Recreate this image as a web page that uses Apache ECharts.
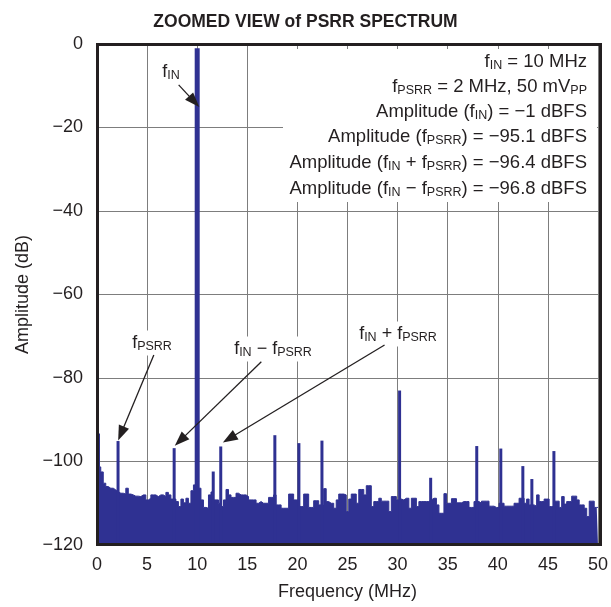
<!DOCTYPE html>
<html><head><meta charset="utf-8">
<script src="https://cdn.jsdelivr.net/npm/echarts@6/dist/echarts.min.js"></script>
<style>html,body{margin:0;padding:0;background:#fff}#c{width:611px;height:607px}</style>
</head><body><div id="c"></div>
<script>
// Noise floor, one value per 0.25 MHz bin (dB)
const floor0to10 = [-93, -101.3, -102.5, -105.2, -106.0, -106.4, -106.4, -106.8, -107.2, -107.6,
 -107.6, -107.8, -106.4, -107.8, -108.0, -108.3, -108.3, -108.4, -108.0, -108.0,
 -109.2, -108.8, -108.0, -108.0, -108.4, -108.0, -108.0, -108.4, -107.4, -108.0,
 -109.0, -109.0, -109.6, -110.8, -109.0, -109.9, -108.8, -110.0, -107.0, -105.6];
const floor10to20 = [-104, -106.4, -109.2, -111.0, -111.2, -108.0, -107.3, -109.2, -109.2, -110.0,
 -110.8, -109.2, -106.7, -108.0, -108.6, -108.6, -107.6, -108.0, -108.0, -108.0,
 -108.4, -109.2, -109.2, -109.2, -110.0, -109.6, -110.0, -110.0, -110.0, -108.6,
 -108.6, -108.0, -110.4, -110.4, -111.2, -111.2, -111.2, -107.8, -107.8, -109.2];
const floor20to30 = [-109.2, -110.8, -110.8, -107.8, -107.8, -111.0, -111.0, -109.4, -109.4, -110.4,
 -110.4, -106.5, -109.6, -110.0, -110.0, -111.2, -109.2, -107.8, -107.8, -108.0,
 -112.0, -109.0, -107.8, -107.8, -110.0, -106.7, -106.7, -108.0, -105.8, -105.8,
 -110.8, -109.6, -109.6, -108.8, -109.5, -109.5, -109.5, -112.0, -108.4, -108.4];
const floor30to40 = [-109.2, -109.0, -109.2, -108.8, -108.8, -111.2, -108.8, -108.8, -110.8, -109.6,
 -109.6, -109.6, -109.6, -109.2, -108.8, -108.8, -110.4, -112.4, -112.4, -107.7,
 -110.0, -110.0, -108.9, -108.9, -109.9, -109.9, -109.6, -109.6, -109.6, -111.0,
 -111.0, -109.6, -109.6, -110.0, -109.5, -109.5, -109.5, -110.7, -110.7, -111.0];
const floor40to50 = [-111.0, -110.0, -110.0, -110.7, -110.7, -110.7, -110.7, -110.0, -110.0, -108.8,
 -108.8, -110.0, -109.0, -110.4, -110.4, -110.7, -108.0, -109.6, -109.6, -109.0,
 -109.0, -110.8, -110.8, -109.5, -109.5, -111.0, -108.4, -110.2, -109.6, -109.6,
 -108.3, -108.3, -109.2, -110.4, -110.4, -111.2, -113.2, -109.5, -109.5, -111.0, -111.0];
const binStepMHz = 0.25;

// Discrete spurs / tones (incl. DC leakage near 0 MHz)
const spurFreqMHz = [0.15, 2.1, 7.7, 10.0, 11.6, 12.35, 17.75, 20.15, 22.45, 30.2, 33.3, 37.9, 40.3, 42.5, 43.4, 45.6];
const spurDb      = [-93.3, -95.1, -96.8, -1, -102.4, -96.4, -93.7, -95.6, -95.0, -83.0, -103.9, -96.3, -96.9, -101.1, -104.2, -97.5];

// Axis ticks
const xTicks = [0, 5, 10, 15, 20, 25, 30, 35, 40, 45, 50];
const yTicks = [0, -20, -40, -60, -80, -100, -120];

// Annotation arrows: [fromFreq, fromDb, toFreq, toDb]
const arrowFIN   = [8.15, -9.8, 9.7, -13.8];
const arrowPSRR  = [5.67, -74.5, 2.4, -93.3];
const arrowMinus = [16.4, -76.1, 8.3, -95.0];
const arrowPlus  = [28.7, -72.1, 13.2, -94.5];

const FONT = 'Liberation Sans, Arial, sans-serif';
const INK = '#231f20';
const BLUE = '#2f3192';

const floorAll = [].concat(floor0to10, floor10to20, floor20to30, floor30to40, floor40to50);
const floorData = floorAll.map((v, i) => [i * binStepMHz, v]);
const spurData = spurFreqMHz.map((f, i) => [f, spurDb[i]]);

const chart = echarts.init(document.getElementById('c'), null, {renderer: 'canvas'});
const fmtMinus = v => String(v).replace('-', '\u2212');
const sub = {fontSize: 12.5, fontFamily: FONT, fill: INK, color: INK, verticalAlign: 'bottom', lineHeight: 13};

function arrowLine(a) {
  return [{coord: [a[0], a[1]], symbol: 'none'}, {coord: [a[2], a[3]], symbol: 'triangle'}];
}

function txt(x, y, text, align) {
  return {
    type: 'text', x: x, y: y, z: 60,
    style: {
      text: text, align: align || 'right', verticalAlign: 'middle',
      fontSize: 18.5, fontFamily: FONT, fill: INK, lineHeight: 21,
      rich: {s: sub}
    }
  };
}
function lbl(x, y, text) {
  return {
    type: 'text', x: x, y: y, z: 60,
    style: {
      text: text, align: 'center', verticalAlign: 'middle',
      fontSize: 18, fontFamily: FONT, fill: INK, lineHeight: 21,
      backgroundColor: '#fff', padding: [2, 3, 2, 3],
      rich: {s: sub}
    }
  };
}

const option = {
  animation: false,
  backgroundColor: '#fff',
  title: {
    text: 'ZOOMED VIEW of PSRR SPECTRUM', left: 'center', top: 8,
    textStyle: {fontFamily: FONT, fontWeight: 'bold', fontSize: 17.5, color: INK}
  },
  grid: {left: 97, right: 10, top: 44, bottom: 62},
  xAxis: {
    type: 'value', min: xTicks[0], max: xTicks[xTicks.length - 1], interval: xTicks[1] - xTicks[0],
    axisLine: {show: false}, axisTick: {show: false},
    splitLine: {show: true, lineStyle: {color: '#7d7d7d', width: 1}},
    axisLabel: {fontSize: 18, fontFamily: FONT, color: INK, margin: 11},
    name: 'Frequency (MHz)', nameLocation: 'middle', nameGap: 38,
    nameTextStyle: {fontSize: 18, fontFamily: FONT, color: INK}
  },
  yAxis: {
    type: 'value', min: yTicks[yTicks.length - 1], max: yTicks[0], interval: yTicks[0] - yTicks[1],
    axisLine: {show: false}, axisTick: {show: false},
    splitLine: {show: true, lineStyle: {color: '#7d7d7d', width: 1}},
    axisLabel: {fontSize: 18, fontFamily: FONT, color: INK, margin: 14, formatter: fmtMinus},
    name: 'Amplitude (dB)', nameLocation: 'middle', nameGap: 64,
    nameTextStyle: {fontSize: 18, fontFamily: FONT, color: INK}
  },
  series: [
    {
      type: 'line', data: floorData, step: 'middle', symbol: 'none', z: 3,
      lineStyle: {color: BLUE, width: 1}, areaStyle: {color: BLUE, opacity: 1, origin: 'start'},
      markLine: {
        silent: true, animation: false, z: 70,
        symbolSize: [11, 15],
        lineStyle: {color: INK, width: 1.3, type: 'solid'},
        itemStyle: {color: INK},
        label: {show: false},
        data: [arrowLine(arrowFIN), arrowLine(arrowPSRR), arrowLine(arrowMinus), arrowLine(arrowPlus)]
      }
    },
    {
      type: 'custom', data: spurData, z: 4,
      renderItem: function (params, api) {
        const f = api.value(0), d = api.value(1);
        const top = api.coord([f, d]);
        const bot = api.coord([f, yTicks[yTicks.length - 1]]);
        const w = d > -50 ? 5 : 3;
        return {type: 'rect', shape: {x: top[0] - w / 2, y: top[1], width: w, height: bot[1] - top[1]},
                style: {fill: BLUE}};
      }
    }
  ],
  graphic: [
    {type: 'rect', z: 50, shape: {x: 283, y: 49, width: 314, height: 153}, style: {fill: '#fff'}},
    txt(587, 62, 'f{s|IN} = 10 MHz'),
    txt(587, 87, 'f{s|PSRR} = 2 MHz, 50 mV{s|PP}'),
    txt(587, 112, 'Amplitude (f{s|IN}) = \u22121 dBFS'),
    txt(587, 137, 'Amplitude (f{s|PSRR}) = \u221295.1 dBFS'),
    txt(587, 163, 'Amplitude (f{s|IN} + f{s|PSRR}) = \u221296.4 dBFS'),
    txt(587, 189, 'Amplitude (f{s|IN} \u2212 f{s|PSRR}) = \u221296.8 dBFS'),
    lbl(171, 72, 'f{s|IN}'),
    lbl(152, 343, 'f{s|PSRR}'),
    lbl(273, 349, 'f{s|IN} \u2212 f{s|PSRR}'),
    lbl(398, 334, 'f{s|IN} + f{s|PSRR}'),
    {type: 'rect', z: 100, shape: {x: 97.5, y: 44.5, width: 503, height: 500},
     style: {fill: 'none', stroke: INK, lineWidth: 3}}
  ]
};
chart.setOption(option);
</script>
</body></html>
